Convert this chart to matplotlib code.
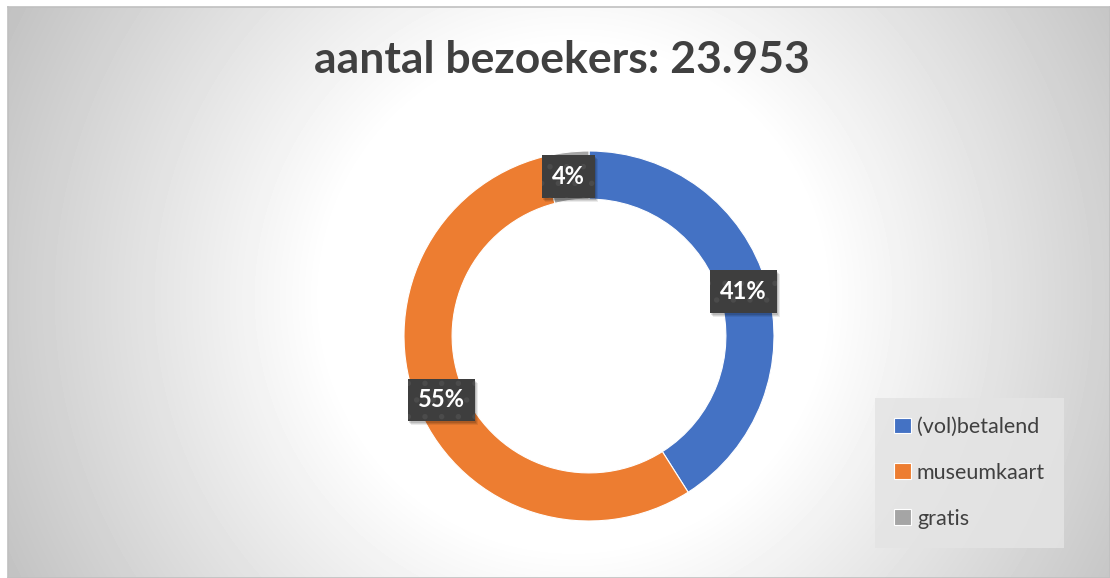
import numpy as np
import matplotlib
matplotlib.use("Agg")
import matplotlib.pyplot as plt
from matplotlib.patches import Rectangle
from matplotlib.transforms import IdentityTransform

# data
categories = ['(vol)betalend', 'museumkaart', 'gratis']
shares = [41, 55, 4]
colors = ['#4472C4', '#ED7D31', '#A5A5A5']
title = 'aantal bezoekers: 23.953'

plt.rcParams['font.family'] = ['Lato', 'DejaVu Sans']
plt.rcParams['hatch.linewidth'] = 1.5

W, H = 1110, 578
fig = plt.figure(figsize=(W / 100, H / 100), dpi=100, facecolor='white')

# chart area with radial grey gradient
bg = fig.add_axes([8 / W, 0, 1 - 8 / W, 1 - 7 / H])
yy, xx = np.mgrid[0:571, 0:1102]
r = np.hypot(xx - 565, yy - 290)
shade = 1 - 0.25 * np.clip((r - 250) / 400, 0, 1)
bg.imshow(shade, cmap='gray', vmin=0, vmax=1, aspect='auto', interpolation='bilinear')
bg.set_xticks([])
bg.set_yticks([])
for s in bg.spines.values():
    s.set_color('#c0c0c0')
    s.set_linewidth(1.2)

fig.text(562 / W, 1 - 60 / H, title, ha='center', va='center',
         fontsize=32, fontweight='bold', color='#404040')

# donut
ax = fig.add_axes([404 / W, 57 / H, 370 / W, 370 / H])
wedges, _, autotexts = ax.pie(
    shares, colors=colors, startangle=90, counterclock=False,
    autopct='%.0f%%', pctdistance=0.87,
    wedgeprops=dict(width=0.26, edgecolor='white', linewidth=0.8))
ax.set_xlim(-1, 1)
ax.set_ylim(-1, 1)
ax.set_aspect('equal')

for t in autotexts:
    t.set_fontsize(17)
    t.set_fontweight('bold')
    t.set_color('white')
    t.set_zorder(5)
    t.set_bbox(dict(boxstyle='square,pad=0.42', fc='#3e3e3e', ec='#4b4b4b',
                    lw=0, hatch='.'))

# soft shadows under the label boxes
fig.canvas.draw()
for t in autotexts:
    ext = t.get_bbox_patch().get_window_extent()
    for k, a in [(4, 0.08), (3, 0.1), (2, 0.12)]:
        ax.add_patch(Rectangle((ext.x0 + k - 1, ext.y0 - k), ext.width, ext.height,
                               transform=IdentityTransform(), fc='black', ec='none',
                               alpha=a, zorder=4, clip_on=False))

leg = fig.legend(wedges, categories, loc='lower left',
                 bbox_to_anchor=(875 / W, 30 / H),
                 frameon=True, fancybox=False, fontsize=15.5,
                 labelcolor='#404040', handlelength=0.75, handleheight=0.75,
                 handletextpad=0.3, labelspacing=1.2, borderpad=0.9,
                 borderaxespad=0)
frame = leg.get_frame()
frame.set_facecolor('#e4e4e4')
frame.set_edgecolor('none')
frame.set_alpha(0.85)

fig.savefig('out.png', dpi=100, facecolor='white')
